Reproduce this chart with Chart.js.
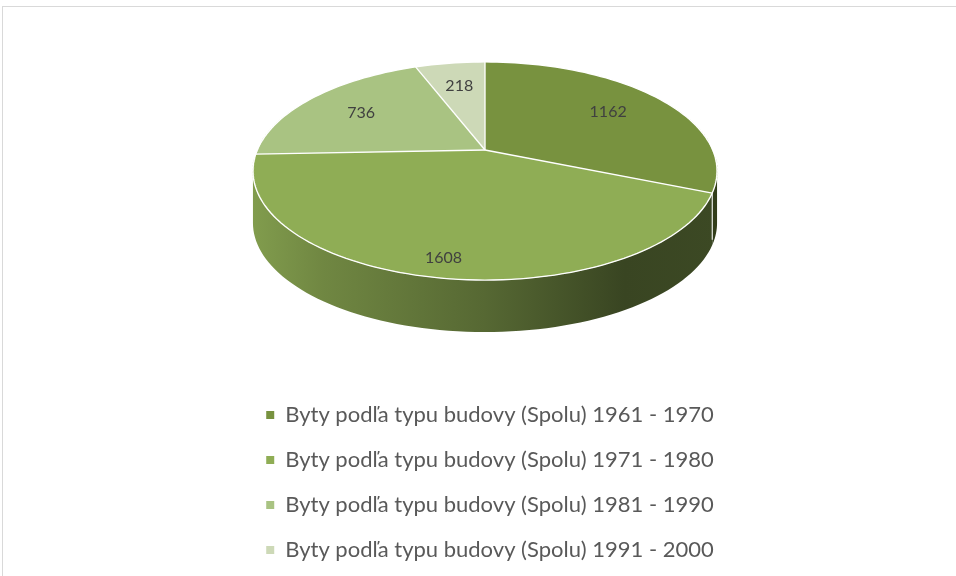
<!DOCTYPE html>
<html>
<head>
<meta charset="utf-8">
<script src="https://cdn.jsdelivr.net/npm/chart.js@4"></script>
<style>
  html, body { margin: 0; padding: 0; background: #fff; }
  body { width: 956px; height: 576px; position: relative; overflow: hidden; }
  #frame { position: absolute; left: 2px; top: 6px; width: 1000px; height: 600px;
           border-top: 1px solid #d9d9d9; border-left: 1px solid #d9d9d9; }
  #chart { position: absolute; left: 0; top: 0; }
</style>
</head>
<body>
<div id="frame"></div>
<canvas id="chart" width="956" height="576"></canvas>
<script>
const labels = [
  "Byty podľa typu budovy (Spolu) 1961 - 1970",
  "Byty podľa typu budovy (Spolu) 1971 - 1980",
  "Byty podľa typu budovy (Spolu) 1981 - 1990",
  "Byty podľa typu budovy (Spolu) 1991 - 2000"
];
const values = [1162, 1608, 736, 218];
const colors = ["#78923f", "#8fad55", "#a9c382", "#cdd9b7"];

// ------------------- 3D LOOK -------------------
// pie is drawn flat by chart.js, then tilted with a perspective map
const view = { cx: 485, cy: 150, a: 227.7, b: 105, k: -0.1927, depth: 52 };
const labelRadius = [0.7, 0.87, 0.7, 0.7];
const sideStops = [[0, 0.9], [0.15, 0.78], [0.5, 0.6], [0.8, 0.4], [1, 0.42]];

function project(sx, sy) {
  const w = 1 + view.k * sy;
  return { x: view.cx + view.a * sx / w, y: view.cy + view.b * sy / w };
}

function shade(hex, f) {
  const n = parseInt(hex.slice(1), 16);
  return "rgb(" + Math.round((n >> 16 & 255) * f) + "," +
    Math.round((n >> 8 & 255) * f) + "," + Math.round((n & 255) * f) + ")";
}

const tiltPie = {
  id: "tiltPie",
  afterDatasetsDraw(chart) {
    const ctx = chart.ctx;
    const arcs = chart.getDatasetMeta(0).data;
    const R = arcs[0].outerRadius, ox = arcs[0].x, oy = arcs[0].y;

    const tmp = document.createElement("canvas");
    tmp.width = chart.canvas.width;
    tmp.height = chart.canvas.height;
    tmp.getContext("2d").drawImage(chart.canvas, 0, 0);

    ctx.save();
    ctx.clearRect(ox - R - 4, oy - R - 4, 2 * R + 8, 2 * R + 8);

    const half = view.a / Math.sqrt(1 - view.k * view.k);
    const xl = view.cx - half, xr = view.cx + half;

    // side of the pie
    const lo = Math.asin(-view.k), hi = Math.PI - lo;
    arcs.forEach((arc, i) => {
      const s = Math.max(arc.startAngle, lo), e = Math.min(arc.endAngle, hi);
      if (e <= s) return;
      const pts = [];
      for (let n = 0; n <= 80; n++) {
        const t = s + (e - s) * n / 80;
        pts.push(project(Math.cos(t), Math.sin(t)));
      }
      ctx.beginPath();
      pts.forEach((p, j) => j ? ctx.lineTo(p.x, p.y) : ctx.moveTo(p.x, p.y));
      for (let j = pts.length - 1; j >= 0; j--) ctx.lineTo(pts[j].x, pts[j].y + view.depth);
      ctx.closePath();
      const g = ctx.createLinearGradient(xl, 0, xr, 0);
      sideStops.forEach(st => g.addColorStop(st[0], shade(colors[i], st[1])));
      ctx.fillStyle = g;
      ctx.fill();
      // seam on the side
      if (arc.startAngle > lo && arc.startAngle < hi) {
        const p = project(Math.cos(arc.startAngle), Math.sin(arc.startAngle));
        ctx.strokeStyle = "rgba(255,255,255,0.85)";
        ctx.lineWidth = 1.2;
        ctx.beginPath();
        ctx.moveTo(p.x, p.y);
        ctx.lineTo(p.x, p.y + view.depth * 0.9);
        ctx.stroke();
      }
    });

    // top face, row by row
    const top = Math.floor(project(0, -1).y), bottom = Math.ceil(project(0, 1).y);
    for (let Y = top; Y < bottom; Y++) {
      const d0 = Y - view.cy, d1 = Y + 1 - view.cy;
      const y0 = d0 / (view.b - view.k * d0);
      const y1 = d1 / (view.b - view.k * d1);
      const s = view.a / (1 + view.k * (y0 + y1) / 2);
      ctx.drawImage(tmp, ox - R, oy + R * y0, 2 * R, R * (y1 - y0), view.cx - s, Y, 2 * s, 1);
    }

    // white edges
    ctx.strokeStyle = "#ffffff";
    ctx.lineWidth = 1.3;
    ctx.beginPath();
    for (let n = 0; n <= 200; n++) {
      const t = n / 200 * Math.PI * 2;
      const p = project(Math.cos(t), Math.sin(t));
      n ? ctx.lineTo(p.x, p.y) : ctx.moveTo(p.x, p.y);
    }
    ctx.stroke();
    arcs.forEach(arc => {
      const p = project(Math.cos(arc.startAngle), Math.sin(arc.startAngle));
      ctx.beginPath();
      ctx.moveTo(view.cx, view.cy);
      ctx.lineTo(p.x, p.y);
      ctx.stroke();
    });

    // value labels
    ctx.fillStyle = "#404040";
    ctx.font = "16px Lato";
    ctx.textAlign = "center";
    ctx.textBaseline = "middle";
    arcs.forEach((arc, i) => {
      const m = (arc.startAngle + arc.endAngle) / 2, r = labelRadius[i];
      const p = project(r * Math.cos(m), r * Math.sin(m));
      ctx.fillText(String(values[i]), p.x, p.y);
    });
    ctx.restore();
  }
};

new Chart(document.getElementById("chart"), {
  type: "pie",
  data: {
    labels: labels,
    datasets: [{ data: values, backgroundColor: colors, borderWidth: 0 }]
  },
  options: {
    responsive: false,
    animation: false,
    layout: { padding: { left: 250, right: 226, top: 10, bottom: 5 } },
    plugins: {
      legend: {
        position: "bottom",
        labels: {
          boxWidth: 8, boxHeight: 8, padding: 23, color: "#595959",
          font: { family: "Lato", size: 22 }
        }
      },
      tooltip: { enabled: false }
    }
  },
  plugins: [tiltPie]
});
</script>
</body>
</html>
